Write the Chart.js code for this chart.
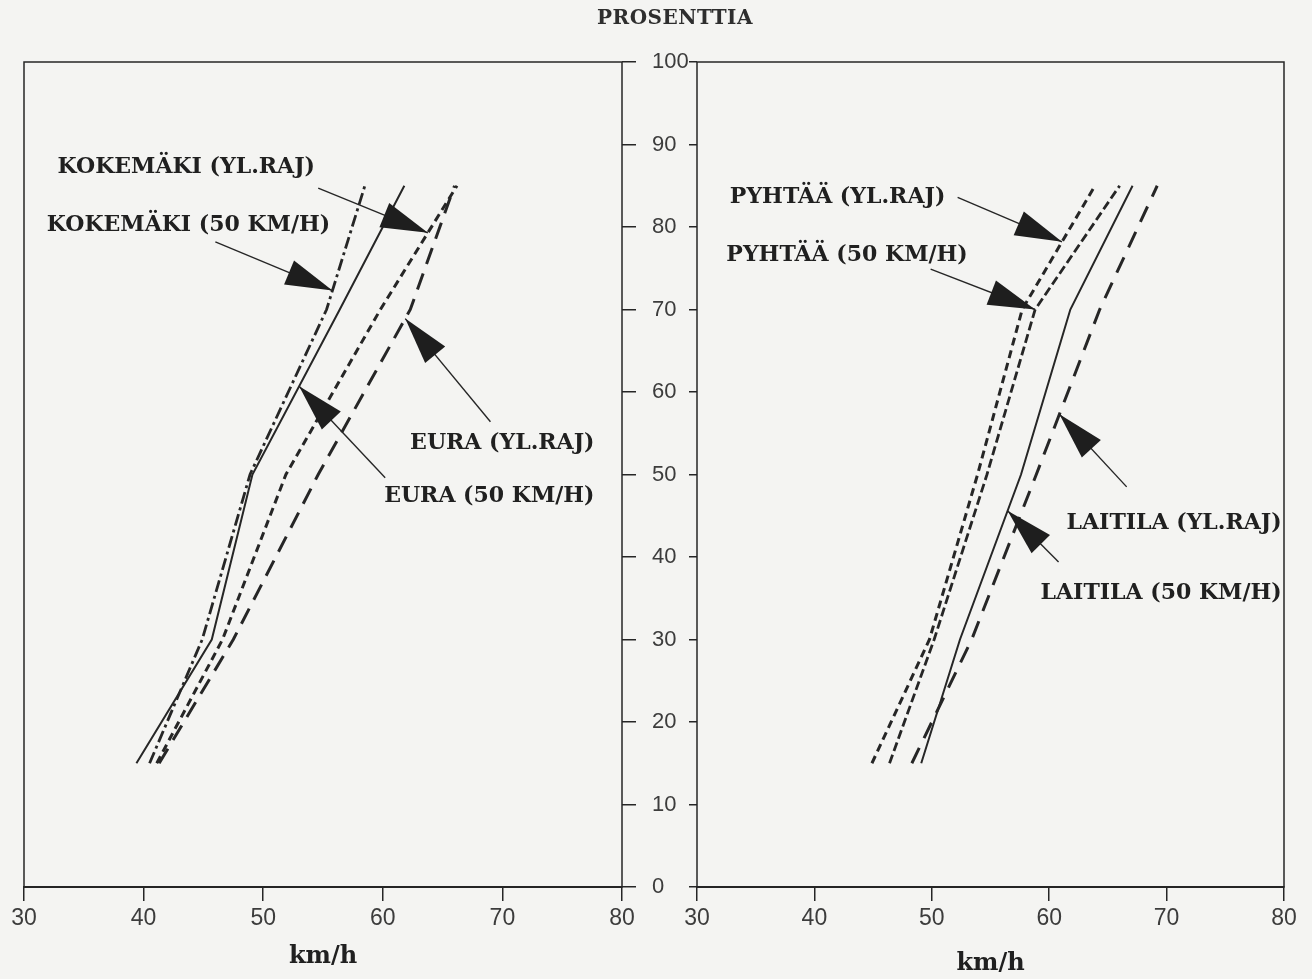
<!DOCTYPE html>
<html lang="fi">
<head>
<meta charset="utf-8">
<title>Nopeusjakaumat</title>
<script src="https://cdn.jsdelivr.net/npm/chart.js@4.4.1/dist/chart.umd.min.js"></script>
<style>
    html, body { margin: 0; padding: 0; background: #f4f4f2; }
    #wrap { position: relative; width: 1312px; height: 979px; overflow: hidden; }
    #left-chart { position: absolute; left: 0; top: 0; }
    #right-chart { position: absolute; left: 660px; top: 0; }
    #y-title {
        position: absolute; left: 597px; top: 5px;
        font: bold 20px 'DejaVu Serif', serif; color: #2e2e2e; letter-spacing: 0.5px;
    }
</style>
</head>
<body>
<div id="wrap">
    <canvas id="left-chart" width="700" height="979"></canvas>
    <canvas id="right-chart" width="652" height="979"></canvas>
    <div id="y-title">PROSENTTIA</div>
</div>
<script>
// Percent levels (y) and the speeds (km/h) at those levels
const percentLevels = [15, 30, 50, 70, 85];

const euraYlRaj = [41.3, 47.5, 54.6, 62.3, 66.0];
const eura50 = [39.4, 45.7, 49.1, 56.4, 61.8];
const kokemakiYlRaj = [41.1, 46.6, 51.9, 59.8, 66.2];
const kokemaki50 = [40.5, 44.9, 48.9, 55.3, 58.5];

const pyhtaaYlRaj = [44.9, 49.8, 53.9, 57.7, 63.9];
const pyhtaa50 = [46.4, 50.2, 54.7, 58.8, 66.0];
const laitilaYlRaj = [48.3, 53.4, 58.9, 64.3, 69.2];
const laitila50 = [49.1, 52.4, 57.6, 61.8, 67.1];

const speedTicks = [30, 40, 50, 60, 70, 80];
const percentTicks = [0, 10, 20, 30, 40, 50, 60, 70, 80, 90, 100];

const INK = '#262626';
const tickFont = { family: "'Liberation Sans', sans-serif", size: 23 };
const labelFont = "bold 22px 'DejaVu Serif', serif";

const toPoints = (speeds) => speeds.map((v, i) => ({ x: v, y: percentLevels[i] }));

// speed on a curve at a given percent (straight line between read points)
const speedAt = (points, p) => {
    for (let i = 1; i < points.length; i++) {
        const a = points[i - 1];
        const b = points[i];
        if (p >= a.y && p <= b.y) {
            return a.x + ((p - a.y) / (b.y - a.y)) * (b.x - a.x);
        }
    }
    return points[points.length - 1].x;
};

const calloutPlugin = {
    id: 'callouts',
    afterDatasetsDraw(chart, args, opts) {
        const { ctx, chartArea } = chart;
        const xs = chart.scales.x;
        const ys = chart.scales.y;
        ctx.save();

        // panel frame
        ctx.strokeStyle = INK;
        ctx.lineWidth = 1.5;
        ctx.strokeRect(chartArea.left, chartArea.top, chartArea.right - chartArea.left, chartArea.bottom - chartArea.top);

        (opts.items || []).forEach((c) => {
            const pts = chart.data.datasets[c.series].data;
            const tipX = xs.getPixelForValue(speedAt(pts, c.tipY));
            const tipY = ys.getPixelForValue(c.tipY);
            const tailX = xs.getPixelForValue(c.tailX);
            const tailY = ys.getPixelForValue(c.tailY);

            ctx.strokeStyle = INK;
            ctx.lineWidth = 1.4;
            ctx.beginPath();
            ctx.moveTo(tailX, tailY);
            ctx.lineTo(tipX, tipY);
            ctx.stroke();

            // big filled arrow head
            const len = Math.hypot(tipX - tailX, tipY - tailY);
            const ux = (tipX - tailX) / len;
            const uy = (tipY - tailY) / len;
            const headLen = 47;
            const halfW = 13;
            const bx = tipX - ux * headLen;
            const by = tipY - uy * headLen;
            ctx.fillStyle = '#1e1e1e';
            ctx.beginPath();
            ctx.moveTo(tipX, tipY);
            ctx.lineTo(bx - uy * halfW, by + ux * halfW);
            ctx.lineTo(bx + uy * halfW, by - ux * halfW);
            ctx.closePath();
            ctx.fill();

            ctx.font = labelFont;
            ctx.fillStyle = '#202020';
            ctx.textAlign = c.align;
            ctx.textBaseline = 'middle';
            ctx.fillText(c.text, xs.getPixelForValue(c.textX), ys.getPixelForValue(c.textY));
        });
        ctx.restore();
    },
};

const lineSet = (label, speeds, dash, width) => ({
    label,
    data: toPoints(speeds),
    borderColor: INK,
    borderWidth: width,
    borderDash: dash,
    pointRadius: 0,
    fill: false,
    tension: 0,
});

const xAxis = (titlePad) => ({
    type: 'linear',
    min: 30,
    max: 80,
    afterBuildTicks: (s) => { s.ticks = speedTicks.map((v) => ({ value: v })); },
    afterFit: (s) => { s.height = 92; },
    grid: { drawOnChartArea: false, drawTicks: true, tickLength: 14, color: INK, tickColor: INK, lineWidth: 1.5 },
    border: { display: true, color: INK, width: 2 },
    ticks: { padding: 4, color: '#3c3c3c', font: tickFont, maxRotation: 0 },
    title: {
        display: true,
        text: 'km/h',
        color: '#202020',
        font: { family: "'DejaVu Serif', serif", size: 24, weight: 'bold' },
        padding: { top: 0, bottom: titlePad },
    },
});

const baseOptions = {
    responsive: false,
    animation: false,
    devicePixelRatio: 1,
    plugins: { legend: { display: false }, tooltip: { enabled: false } },
};

let leftChartInstance = null;
let rightChartInstance = null;

document.addEventListener('DOMContentLoaded', () => {
    leftChartInstance = new Chart(document.getElementById('left-chart'), {
        type: 'line',
        data: {
            datasets: [
                lineSet('EURA (50 KM/H)', eura50, [], 2),
                lineSet('KOKEMÄKI (50 KM/H)', kokemaki50, [12, 4, 3, 4], 2.8),
                lineSet('KOKEMÄKI (YL.RAJ)', kokemakiYlRaj, [8, 5], 3),
                lineSet('EURA (YL.RAJ)', euraYlRaj, [17, 10], 3),
            ],
        },
        options: {
            ...baseOptions,
            layout: { padding: { top: 62, left: 24, right: 0, bottom: 0 } },
            scales: {
                x: xAxis(8),
                y: {
                    type: 'linear',
                    position: 'right',
                    min: 0,
                    max: 100,
                    afterBuildTicks: (s) => { s.ticks = percentTicks.map((v) => ({ value: v })); },
                    afterFit: (s) => { s.width = 78; },
                    grid: { drawOnChartArea: false, drawTicks: true, tickLength: 14, color: INK, tickColor: INK, lineWidth: 1.5 },
                    border: { display: false },
                    ticks: { padding: 16, color: '#3c3c3c', font: { ...tickFont, size: 22 } },
                },
            },
            plugins: {
                ...baseOptions.plugins,
                callouts: {
                    items: [
                        { text: 'KOKEMÄKI (YL.RAJ)', align: 'left', textX: 32.8, textY: 87.2, tailX: 54.6, tailY: 84.7, series: 2, tipY: 79.3 },
                        { text: 'KOKEMÄKI (50 KM/H)', align: 'left', textX: 31.9, textY: 80.2, tailX: 46.0, tailY: 78.2, series: 1, tipY: 72.3 },
                        { text: 'EURA (YL.RAJ)', align: 'right', textX: 77.7, textY: 53.8, tailX: 69.0, tailY: 56.4, series: 3, tipY: 68.9 },
                        { text: 'EURA (50 KM/H)', align: 'right', textX: 77.7, textY: 47.3, tailX: 60.2, tailY: 49.6, series: 0, tipY: 60.7 },
                    ],
                },
            },
        },
        plugins: [calloutPlugin],
    });

    rightChartInstance = new Chart(document.getElementById('right-chart'), {
        type: 'line',
        data: {
            datasets: [
                lineSet('LAITILA (50 KM/H)', laitila50, [], 2),
                lineSet('LAITILA (YL.RAJ)', laitilaYlRaj, [17, 11], 3),
                lineSet('PYHTÄÄ (YL.RAJ)', pyhtaaYlRaj, [8, 5], 3),
                lineSet('PYHTÄÄ (50 KM/H)', pyhtaa50, [9, 4], 2.8),
            ],
        },
        options: {
            ...baseOptions,
            layout: { padding: { top: 62, left: 0, right: 28, bottom: 0 } },
            scales: {
                x: xAxis(1),
                y: {
                    type: 'linear',
                    position: 'left',
                    min: 0,
                    max: 100,
                    afterBuildTicks: (s) => { s.ticks = percentTicks.map((v) => ({ value: v })); },
                    afterFit: (s) => { s.width = 37; },
                    grid: { drawOnChartArea: false, drawTicks: true, tickLength: 8, color: INK, tickColor: INK, lineWidth: 1.5 },
                    border: { display: false },
                    ticks: { display: false },
                },
            },
            plugins: {
                ...baseOptions.plugins,
                callouts: {
                    items: [
                        { text: 'PYHTÄÄ (YL.RAJ)', align: 'left', textX: 32.8, textY: 83.6, tailX: 52.2, tailY: 83.6, series: 2, tipY: 78.2 },
                        { text: 'PYHTÄÄ (50 KM/H)', align: 'left', textX: 32.5, textY: 76.6, tailX: 49.9, tailY: 74.9, series: 3, tipY: 70 },
                        { text: 'LAITILA (YL.RAJ)', align: 'right', textX: 79.8, textY: 44.1, tailX: 66.6, tailY: 48.5, series: 1, tipY: 57.3 },
                        { text: 'LAITILA (50 KM/H)', align: 'right', textX: 79.8, textY: 35.6, tailX: 60.8, tailY: 39.4, series: 0, tipY: 45.6 },
                    ],
                },
            },
        },
        plugins: [calloutPlugin],
    });
});
</script>
</body>
</html>
